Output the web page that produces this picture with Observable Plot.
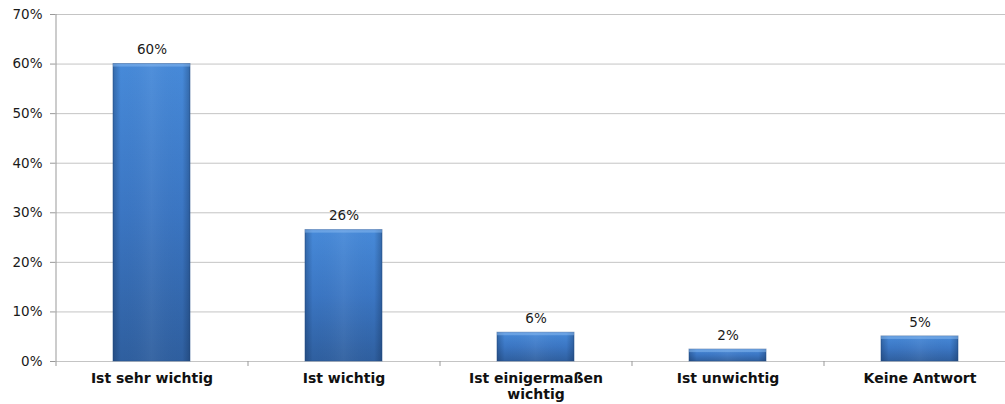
<!DOCTYPE html>
<html><head><meta charset="utf-8">
<script src="https://cdn.jsdelivr.net/npm/d3@7"></script>
<script src="https://cdn.jsdelivr.net/npm/@observablehq/plot@0.6"></script>
<style>html,body{margin:0;padding:0;overflow:hidden;background:#fff}</style>
</head><body><div id="chart"></div>
<script>
const categories = ["Ist sehr wichtig", "Ist wichtig", "Ist einigermaßen wichtig", "Ist unwichtig", "Keine Antwort"];
const tickLabels = ["Ist sehr wichtig", "Ist wichtig", "Ist einigermaßen\nwichtig", "Ist unwichtig", "Keine Antwort"];
const values = [60, 26.5, 5.8, 2.4, 5.05];
const valueLabels = ["60%", "26%", "6%", "2%", "5%"];
const yTicks = [0, 10, 20, 30, 40, 50, 60, 70];

const data = categories.map((c, i) => ({category: c, value: values[i], label: valueLabels[i]}));
const labelOf = new Map(categories.map((c, i) => [c, tickLabels[i]]));

const defs = () => {
  const d = d3.create("svg:defs");
  const v = d.append("linearGradient").attr("id", "gv").attr("x1", 0).attr("y1", 0).attr("x2", 0).attr("y2", 1);
  v.append("stop").attr("offset", "0%").attr("stop-color", "#478ad9");
  v.append("stop").attr("offset", "50%").attr("stop-color", "#3b76c3");
  v.append("stop").attr("offset", "100%").attr("stop-color", "#2f5f9f");
  const h = d.append("linearGradient").attr("id", "gh").attr("x1", 0).attr("y1", 0).attr("x2", 1).attr("y2", 0);
  h.append("stop").attr("offset", "0%").attr("stop-color", "#0a2040").attr("stop-opacity", 0.3);
  h.append("stop").attr("offset", "10%").attr("stop-color", "#0a2040").attr("stop-opacity", 0.0);
  h.append("stop").attr("offset", "50%").attr("stop-color", "#ffffff").attr("stop-opacity", 0.05);
  h.append("stop").attr("offset", "90%").attr("stop-color", "#0a2040").attr("stop-opacity", 0.0);
  h.append("stop").attr("offset", "100%").attr("stop-color", "#0a2040").attr("stop-opacity", 0.3);
  return d.node();
};

const chart = Plot.plot({
  width: 1020,
  height: 404,
  marginLeft: 55,
  marginRight: 5,
  marginTop: 14,
  marginBottom: 43,
  style: {fontFamily: "'DejaVu Sans', Verdana, sans-serif", fontSize: "13.5px", color: "#1a1a1a", background: "#fff", maxWidth: "none"},
  x: {domain: categories, paddingInner: 0.6, paddingOuter: 0.3, axis: null, label: null},
  y: {domain: [0, 70], axis: null, label: null},
  marks: [
    defs,
    Plot.ruleY(yTicks, {stroke: "#c4c4c4", strokeWidth: 1}),
    Plot.ruleX([categories[0]], {x: d => d, dx: -96, stroke: "#999"}),
    Plot.ruleX(categories, {x: d => d, y1: 0, y2: 0, insetBottom: -5, dx: -96, stroke: "#999"}),
    Plot.axisY({ticks: yTicks, tickFormat: d => d + "%", tickSize: 5, tickPadding: 8, stroke: "#999", fill: "#1a1a1a", fontSize: 13.5, label: null}),
    Plot.axisX({tickSize: 0, tickPadding: 10, tickFormat: d => labelOf.get(d), fontWeight: "bold", fontSize: 14, fill: "#111", lineHeight: 1.15, label: null}),
    Plot.barY(data, {x: "category", y: "value", fill: "url(#gv)", stroke: "#2a5590", strokeOpacity: 0.55}),
    Plot.barY(data, {x: "category", y: "value", fill: "url(#gh)"}),
    Plot.barY(data, {x: "category", y1: "value", y2: "value", insetBottom: -3, fill: "#8cbcf2", fillOpacity: 0.5}),
    Plot.text(data, {x: "category", y: "value", text: "label", dy: -14, fontSize: 13.5, fill: "#1a1a1a"})
  ]
});
chart.style.maxWidth = "none";
document.getElementById("chart").appendChild(chart);
</script>
</body></html>
